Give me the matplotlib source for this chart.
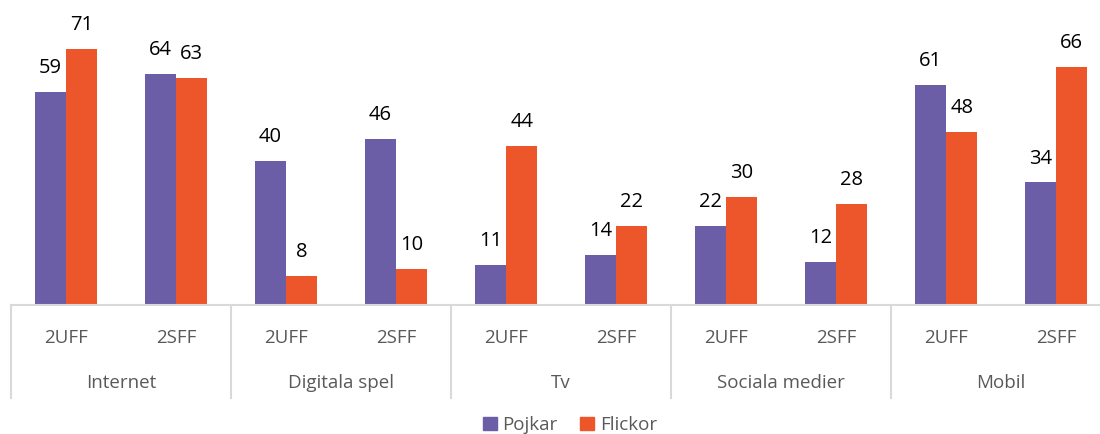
import matplotlib.pyplot as plt
from matplotlib.patches import Patch

PURPLE = '#6B5EA6'
ORANGE = '#EC562A'
GRID = '#D9D9D9'

groups = ['Internet', 'Digitala spel', 'Tv', 'Sociala medier', 'Mobil']
years = ['2UFF', '2SFF']
pojkar = [59, 64, 40, 46, 11, 14, 22, 12, 61, 34]
flickor = [71, 63, 8, 10, 44, 22, 30, 28, 48, 66]


def main():
    plt.rcParams['font.family'] = ['Open Sans', 'DejaVu Sans']
    fig = plt.figure(figsize=(11, 4.34), dpi=100)
    ax = fig.add_axes([11 / 1100, 129 / 434, 1.0, 305 / 434])

    n = len(pojkar)
    centers = [i + 0.5 for i in range(n)]
    width = 0.285
    b1 = ax.bar([c - width / 2 for c in centers], pojkar, width, color=PURPLE)
    b2 = ax.bar([c + width / 2 for c in centers], flickor, width, color=ORANGE)
    ax.bar_label(b1, padding=10, fontsize=14.5, color='black')
    ax.bar_label(b2, padding=10, fontsize=14.5, color='black')

    ax.set_xlim(0, n)
    ax.set_ylim(0, 84.6)
    ax.axis('off')
    ax.axhline(0, color=GRID, lw=1.5, clip_on=False)

    trans = ax.get_xaxis_transform()
    for i, c in enumerate(centers):
        ax.text(c, -0.108, years[i % 2], transform=trans, ha='center',
                va='center', fontsize=13.5, color='#595959')
    for g, name in enumerate(groups):
        ax.text(2 * g + 1, -0.256, name, transform=trans, ha='center',
                va='center', fontsize=13.5, color='#595959')
        ax.plot([2 * g, 2 * g], [0, -0.305], transform=trans, color=GRID,
                lw=1.5, clip_on=False)

    handles = [Patch(color=PURPLE, label='Pojkar'),
               Patch(color=ORANGE, label='Flickor')]
    fig.legend(handles=handles, loc='center', bbox_to_anchor=(0.518, 9 / 434),
               ncol=2, frameon=False, fontsize=13.5, handlelength=0.75,
               handleheight=0.75, handletextpad=0.3, columnspacing=1.2,
               labelcolor='#595959')

    fig.savefig('out.png', dpi=100)


if __name__ == '__main__':
    main()
